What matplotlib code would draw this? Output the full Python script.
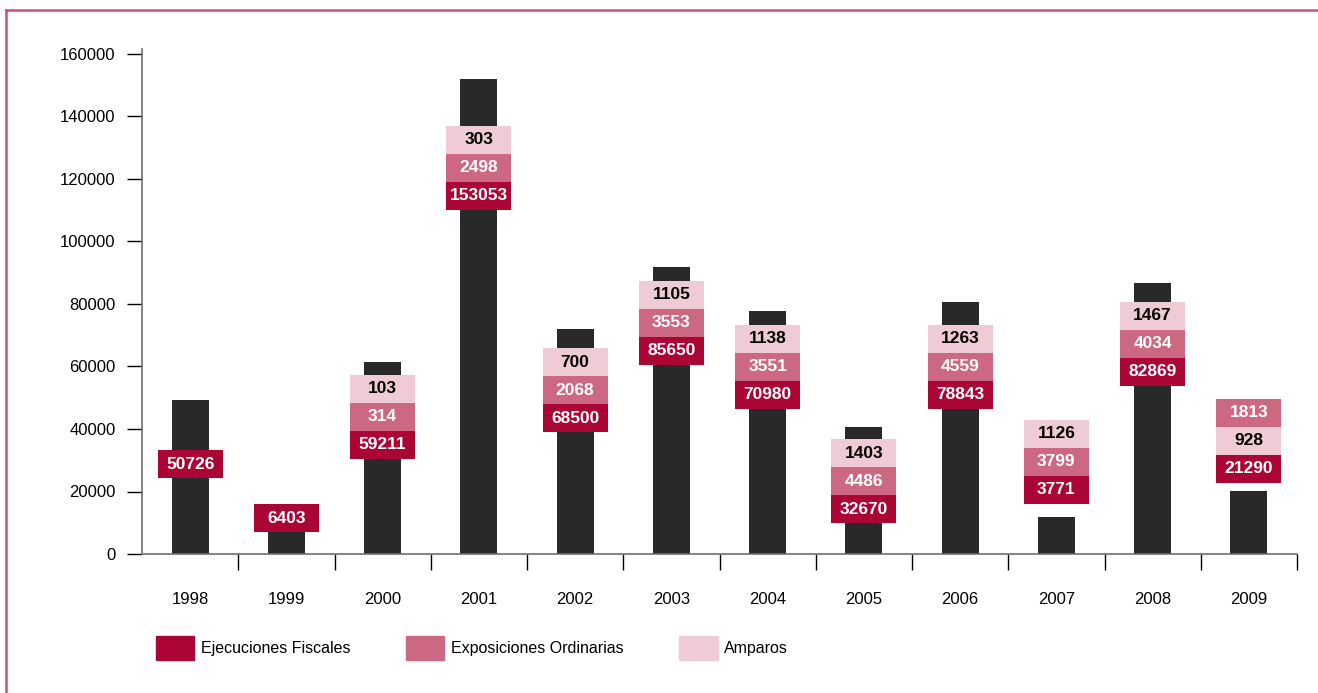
import matplotlib
matplotlib.use('Agg')
import matplotlib.pyplot as plt
from matplotlib.patches import Patch
from matplotlib.lines import Line2D
import numpy as np

plt.rcParams['font.family'] = ['Liberation Sans', 'DejaVu Sans']

# datos
years = ['1998', '1999', '2000', '2001', '2002', '2003',
         '2004', '2005', '2006', '2007', '2008', '2009']
totales = [49300, 8000, 61400, 152000, 72000, 91800,
           77800, 40600, 80600, 11800, 86700, 20200]
ejecuciones = [50726, 6403, 59211, 153053, 68500, 85650,
               70980, 32670, 78843, 3771, 82869, 21290]
exposiciones = [None, None, 314, 2498, 2068, 3553,
                3551, 4486, 4559, 3799, 4034, 1813]
amparos = [None, None, 103, 303, 700, 1105,
           1138, 1403, 1263, 1126, 1467, 928]
# where the label stack starts (value on the y scale)
label_base = [24300, 7000, 30400, 110100, 39000, 60600,
              46400, 9900, 46400, 16100, 53800, 22800]
amparo_en_medio = [False] * 11 + [True]

c_dark = '#292929'
c_ejec = '#ab0535'
c_expo = '#cd6883'
c_amp = '#efcbd6'
c_frame = '#cc5073'

fig = plt.figure(figsize=(13.18, 6.93), dpi=100)
ax = fig.add_axes([142/1318, 1-554/693, 1155/1318, 505/693])

x = np.arange(len(years))
ax.bar(x, totales, width=0.385, color=c_dark, zorder=2)

box_h = 8960
box_w = 0.675
for i in range(len(years)):
    stack = [(ejecuciones[i], c_ejec, 'white')]
    if amparo_en_medio[i]:
        stack += [(amparos[i], c_amp, 'black'), (exposiciones[i], c_expo, 'white')]
    else:
        stack += [(exposiciones[i], c_expo, 'white'), (amparos[i], c_amp, 'black')]
    y0 = label_base[i]
    for val, col, tcol in stack:
        if val is None:
            continue
        ax.bar(x[i], box_h, bottom=y0, width=box_w, color=col, zorder=3)
        ax.text(x[i], y0 + box_h/2, str(val), ha='center', va='center',
                color=tcol, fontsize=12.5, fontweight='bold', zorder=4)
        y0 += box_h

ax.set_xlim(-0.5, len(years) - 0.5)
ax.set_ylim(0, 161600)
ax.set_yticks(np.arange(0, 160001, 20000))
ax.set_yticklabels([str(v) for v in range(0, 160001, 20000)])
ax.tick_params(axis='y', direction='out', length=11, width=1, pad=8,
               labelsize=12, color='black')

ax.set_xticks(x + 0.5)
ax.set_xticklabels([])
ax.tick_params(axis='x', which='major', direction='out', length=11.5, width=1, color='black')
ax.set_xticks(x, minor=True)
ax.set_xticklabels(years, minor=True)
ax.tick_params(axis='x', which='minor', length=0, pad=27, labelsize=12)

for s in ['top', 'right']:
    ax.spines[s].set_visible(False)
for s in ['left', 'bottom']:
    ax.spines[s].set_color('#707070')
    ax.spines[s].set_linewidth(1.2)

handles = [Patch(color=c_ejec, label='Ejecuciones Fiscales'),
           Patch(color=c_expo, label='Exposiciones Ordinarias'),
           Patch(color=c_amp, label='Amparos')]
fig.legend(handles=handles, loc='center left', bbox_to_anchor=(156/1318, 1-648/693),
           ncol=3, frameon=False, fontsize=11.5, handlelength=2.4, handleheight=1.9,
           handletextpad=0.4, columnspacing=3.5, borderpad=0, borderaxespad=0)

# marco
fig.add_artist(Line2D([6/1318, 6/1318], [0, 1-10/693], color=c_frame, lw=1.8,
                      transform=fig.transFigure))
fig.add_artist(Line2D([6/1318, 1], [1-10/693, 1-10/693], color=c_frame, lw=1.8,
                      transform=fig.transFigure))

plt.savefig('out.png', dpi=100)
